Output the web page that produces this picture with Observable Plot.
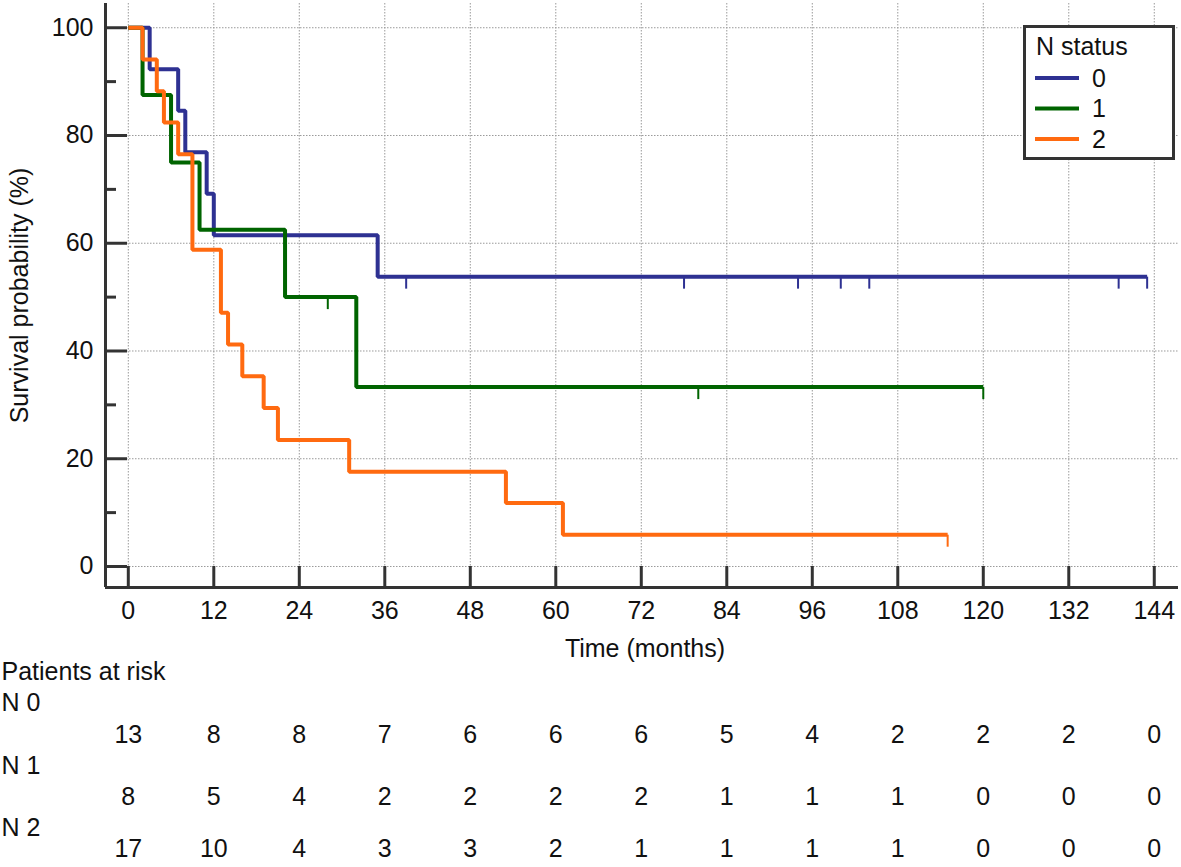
<!DOCTYPE html>
<html><head><meta charset="utf-8">
<script src="https://cdn.jsdelivr.net/npm/d3@7"></script>
<script src="https://cdn.jsdelivr.net/npm/@observablehq/plot@0.6"></script>
<style>
body{margin:0;background:#fff;}
#wrap{position:relative;width:1181px;height:867px;font-family:"Liberation Sans",Arial,sans-serif;color:#111;}
#legend{position:absolute;left:1023px;top:25px;}
</style></head><body><div id="wrap"></div>
<script>
// ---- data ----
const groups = ["0", "1", "2"];
const groupColors = ["#2e3192", "#006400", "#ff6a10"];
const legendTitle = "N status";

const n0Times = [0, 3, 7, 8, 11, 12, 35, 143];
const n0Surv = [100, 92.3, 84.6, 76.9, 69.2, 61.5, 53.8, 53.8];
const n0Censored = [39, 78, 94, 100, 104, 139, 143];

const n1Times = [0, 2, 6, 10, 22, 32, 120];
const n1Surv = [100, 87.5, 75, 62.5, 50, 33.3, 33.3];
const n1Censored = [28, 80, 120];

const n2Times = [0, 2, 4, 5, 7, 9, 13, 14, 16, 19, 21, 31, 53, 61, 115];
const n2Surv = [100, 94.1, 88.2, 82.4, 76.5, 58.8, 47.1, 41.2, 35.3, 29.4, 23.5, 17.6, 11.8, 5.9, 5.9];
const n2Censored = [115];

const xTicks = [0, 12, 24, 36, 48, 60, 72, 84, 96, 108, 120, 132, 144];
const yMajor = [0, 20, 40, 60, 80, 100];
const yMinor = [10, 30, 50, 70, 90];

const riskTitle = "Patients at risk";
const riskLabels = ["N 0", "N 1", "N 2"];
const n0Risk = [13, 8, 8, 7, 6, 6, 6, 5, 4, 2, 2, 2, 0];
const n1Risk = [8, 5, 4, 2, 2, 2, 2, 1, 1, 1, 0, 0, 0];
const n2Risk = [17, 10, 4, 3, 3, 2, 1, 1, 1, 1, 0, 0, 0];

const xLabel = "Time (months)";
const yLabel = "Survival probability (%)";

// ---- build tables ----
const series = [
  {g: "0", t: n0Times, s: n0Surv, c: n0Censored, r: n0Risk},
  {g: "1", t: n1Times, s: n1Surv, c: n1Censored, r: n1Risk},
  {g: "2", t: n2Times, s: n2Surv, c: n2Censored, r: n2Risk}
];
const curve = series.flatMap(d => d.t.map((t, i) => ({group: d.g, t, s: d.s[i]})));
const stepAt = (d, t) => { let v = d.s[0]; d.t.forEach((tt, i) => { if (tt <= t) v = d.s[i]; }); return v; };
const censors = series.flatMap(d => d.c.map(t => ({group: d.g, t, s: stepAt(d, t)})));
const risk = series.flatMap((d, k) => xTicks.map((t, i) => ({row: k, t, n: d.r[i]})));

// ---- layout ----
const W = 1181, H = 867, mL = 105, mR = 3, mT = 3, mB = 280;
const xDomain = [-3.2, 147.4], yDomain = [-3.9, 104.5];
const rowDy = {title: 92, label: [123, 186, 248], values: [155, 217, 269]};
const axisColor = "#333";
const fontSize = "25px";
const censorMark = {draw(ctx) { ctx.moveTo(0, 0); ctx.lineTo(0, 12); }};

const chart = Plot.plot({
  width: W, height: H,
  marginLeft: mL, marginRight: mR, marginTop: mT, marginBottom: mB,
  x: {domain: xDomain},
  y: {domain: yDomain},
  color: {domain: groups, range: groupColors},
  style: {fontFamily: '"Liberation Sans", Arial, sans-serif', fontSize, color: "#111", background: "#fff", overflow: "visible"},
  marks: [
    Plot.gridX(xTicks, {stroke: "#9a9a9a", strokeOpacity: 1, strokeDasharray: "1.5,1.5", strokeWidth: 1}),
    Plot.gridY(yMajor, {stroke: "#9a9a9a", strokeOpacity: 1, strokeDasharray: "1.5,1.5", strokeWidth: 1}),
    Plot.line(curve, {x: "t", y: "s", z: "group", stroke: "group", curve: "step-after", strokeWidth: 4, strokeLinejoin: "miter", strokeLinecap: "butt"}),
    Plot.dot(censors, {x: "t", y: "s", stroke: "group", fill: "none", symbol: censorMark, strokeWidth: 2}),
    Plot.ruleX([xDomain[0]], {stroke: axisColor, strokeWidth: 3}),
    Plot.ruleY([yDomain[0]], {stroke: axisColor, strokeWidth: 3}),
    Plot.axisX(xTicks, {tickSize: -21, fill: "none", stroke: axisColor, strokeWidth: 3, label: null}),
    Plot.axisX(xTicks, {tickSize: 0, tickPadding: 14, label: null, tickFormat: d => d}),
    Plot.axisY(yMajor, {tickSize: -22, fill: "none", stroke: axisColor, strokeWidth: 3, label: null}),
    Plot.axisY(yMinor, {tickSize: -11, fill: "none", stroke: axisColor, strokeWidth: 3, label: null}),
    Plot.axisY(yMajor, {tickSize: 0, tickPadding: 12, tickFormat: d => d, label: yLabel, labelAnchor: "center", labelOffset: 95, labelArrow: "none"}),
    Plot.text([xLabel], {text: d => d, frameAnchor: "bottom", dx: 3, dy: 69}),
    Plot.text([riskTitle], {text: d => d, frameAnchor: "bottom-left", dx: -mL + 1, dy: rowDy.title, textAnchor: "start"}),
    ...riskLabels.map((lab, k) => Plot.text([lab], {text: d => d, frameAnchor: "bottom-left", dx: -mL + 1, dy: rowDy.label[k], textAnchor: "start"})),
    ...riskLabels.map((lab, k) => Plot.text(risk.filter(d => d.row === k), {x: "t", text: "n", frameAnchor: "bottom", dy: rowDy.values[k]}))
  ]
});
const wrap = document.getElementById("wrap");
wrap.appendChild(chart);

// ---- legend ----
const lg = d3.select(wrap).append("svg").attr("id", "legend")
  .attr("width", 152).attr("height", 135)
  .style("font-family", '"Liberation Sans", Arial, sans-serif').style("font-size", fontSize);
lg.append("rect").attr("x", 1.5).attr("y", 1.5).attr("width", 149).attr("height", 132)
  .attr("fill", "#fff").attr("stroke", axisColor).attr("stroke-width", 3);
lg.append("text").attr("x", 13).attr("y", 30).attr("fill", "#111").text(legendTitle);
groups.forEach((g, i) => {
  const cy = 53 + i * 30.5;
  lg.append("line").attr("x1", 12).attr("x2", 56).attr("y1", cy).attr("y2", cy)
    .attr("stroke", groupColors[i]).attr("stroke-width", 4);
  lg.append("text").attr("x", 69).attr("y", cy).attr("dy", "0.35em").attr("fill", "#111").text(g);
});
</script></body></html>
